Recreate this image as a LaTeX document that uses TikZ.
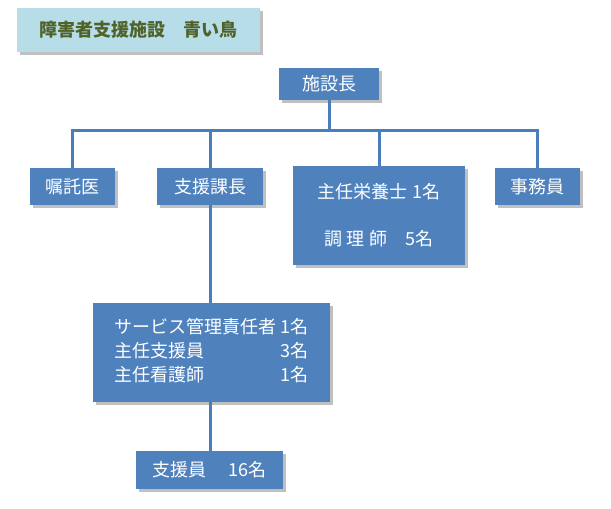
\documentclass[tikz,border=0pt]{standalone}
\usepackage{fontspec}
\newfontfamily\cjk{Noto Sans CJK JP}
\usetikzlibrary{shadows}
\definecolor{boxblue}{HTML}{4F81BD}
\definecolor{lineblue}{HTML}{4A7EBB}
\definecolor{titlebg}{HTML}{B7DDE8}
\definecolor{titletext}{HTML}{4F6228}

\begin{document}
\begin{tikzpicture}[
  x=1pt, y=-1pt,
  every node/.style={font=\cjk\fontsize{18}{24}\selectfont, inner sep=0pt},
  post/.style={rectangle, fill=boxblue, text=white,
    drop shadow={shadow xshift=3pt, shadow yshift=-3pt, fill=black!55, opacity=.45}},
  link/.style={draw=lineblue, line width=3pt}
]
\useasboundingbox (0,0) rectangle (611,509);

% title
\node[post, fill=titlebg, text=titletext, font=\cjk\bfseries\fontsize{18}{24}\selectfont,
  minimum width=243pt, minimum height=44pt] (title) at (138.5,30) {障害者支援施設　青い鳥};

% posts
\node[post, minimum width=100pt, minimum height=32pt] (chief) at (329,84) {施設長};
\node[post, minimum width=85pt, minimum height=37pt] (doctor) at (72.5,186.5) {嘱託医};
\node[post, minimum width=106pt, minimum height=37pt] (head) at (210,186.5) {支援課長};
\node[post, minimum width=172pt, minimum height=99pt, align=center] (kitchen) at (379,215.5)
  {主任栄養士 1名\\[23pt]調 理 師　5名};
\node[post, minimum width=85pt, minimum height=37pt] (office) at (537.5,186.5) {事務員};
\node[post, minimum width=237pt, minimum height=99pt] (service) at (211.5,352.5)
  {\begin{tabular}{@{}l@{\ }r@{}}
   サービス管理責任者 & 1名\\
   主任支援員 & 3名\\
   主任看護師 & 1名
   \end{tabular}};
\node[post, minimum width=147pt, minimum height=38pt] (staff) at (209.5,470) {支援員\hspace{22pt}16名};

% lines
\coordinate (bar) at (0,130);
\draw[link] (chief.south) -- (chief.south |- bar);
\draw[link] (doctor.north) -- (doctor.north |- bar) -| (office.north);
\draw[link] (head.north) -- (head.north |- bar);
\draw[link] (kitchen.north) -- (kitchen.north |- bar);
\draw[link] (head.south) -- (head.south |- service.north);
\draw[link] (head.south |- service.south) -- (head.south |- staff.north);
\end{tikzpicture}
\end{document}
